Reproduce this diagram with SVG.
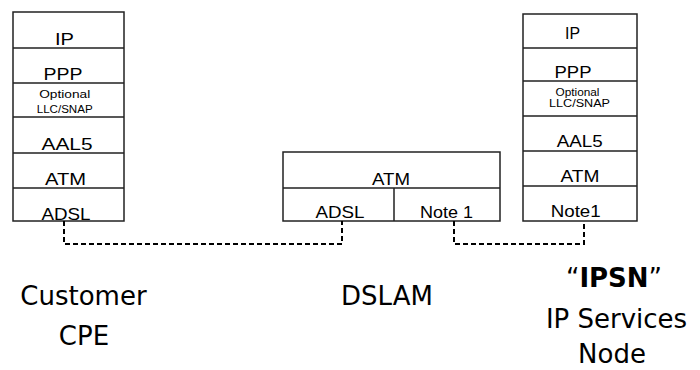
<svg xmlns="http://www.w3.org/2000/svg" width="700" height="370" viewBox="0 0 700 370">
<style>
.box{fill:#fff;stroke:#222;stroke-width:1.5}
.div{stroke:#222;stroke-width:1.5;fill:none}
.t{font-family:"Liberation Sans",Arial,sans-serif;font-size:17px;fill:#000;text-anchor:middle}
.s{font-family:"Liberation Sans",Arial,sans-serif;font-size:10px;fill:#000;text-anchor:middle}
.lbl{font-family:"DejaVu Sans","Noto Sans",sans-serif;font-size:26px;fill:#000;text-anchor:middle}
.dash{stroke:#000;stroke-width:2;fill:none;stroke-dasharray:5,3}
</style>
<rect width="700" height="370" fill="#fff"/>
<g id="cpe-stack">
<rect class="box" x="13" y="12" width="111" height="209"/>
<path class="div" d="M13 48H124M13 83H124M13 117H124M13 153H124M13 188H124"/>
<text class="t" x="64.5" y="45" textLength="19" lengthAdjust="spacingAndGlyphs">IP</text>
<text class="t" x="63" y="80" textLength="39" lengthAdjust="spacingAndGlyphs">PPP</text>
<text class="s" x="64.7" y="98" textLength="51" lengthAdjust="spacingAndGlyphs">Optional</text>
<text class="s" x="64.7" y="112.5" textLength="56" lengthAdjust="spacingAndGlyphs">LLC/SNAP</text>
<text class="t" x="67" y="150" textLength="51" lengthAdjust="spacingAndGlyphs">AAL5</text>
<text class="t" x="65.5" y="185" textLength="41" lengthAdjust="spacingAndGlyphs">ATM</text>
<text class="t" x="66" y="220" textLength="49" lengthAdjust="spacingAndGlyphs">ADSL</text>
</g>
<g id="dslam-stack">
<rect class="box" x="283" y="152" width="217" height="69"/>
<path class="div" d="M283 188H500M394 188V221"/>
<text class="t" x="391" y="185" textLength="38" lengthAdjust="spacingAndGlyphs">ATM</text>
<text class="t" x="340" y="218" textLength="49" lengthAdjust="spacingAndGlyphs">ADSL</text>
<text class="t" x="446.5" y="217.5" textLength="53" lengthAdjust="spacingAndGlyphs">Note 1</text>
</g>
<g id="ipsn-stack">
<rect class="box" x="523" y="14" width="114" height="207"/>
<path class="div" d="M523 48H637M523 81H637M523 116H637M523 151H637M523 186H637"/>
<text class="t" x="572.5" y="38.5" textLength="15" lengthAdjust="spacingAndGlyphs">IP</text>
<text class="t" x="573" y="77.5" textLength="37" lengthAdjust="spacingAndGlyphs">PPP</text>
<text class="s" x="577.5" y="95.5" textLength="44" lengthAdjust="spacingAndGlyphs">Optional</text>
<text class="s" x="579.5" y="107" textLength="61" lengthAdjust="spacingAndGlyphs">LLC/SNAP</text>
<text class="t" x="579.7" y="146.7" textLength="46" lengthAdjust="spacingAndGlyphs">AAL5</text>
<text class="t" x="580" y="181.7" textLength="39" lengthAdjust="spacingAndGlyphs">ATM</text>
<text class="t" x="575.7" y="216.7" textLength="50" lengthAdjust="spacingAndGlyphs">Note1</text>
</g>
<g id="connectors">
<path class="dash" d="M64 221V244H342V221"/>
<path class="dash" d="M454 221V244H584V221"/>
</g>
<g id="label-cpe">
<text class="lbl" x="83.5" y="305">Customer</text>
<text class="lbl" x="84" y="345">CPE</text>
</g>
<g id="label-dslam">
<text class="lbl" x="387" y="305">DSLAM</text>
</g>
<g id="label-ipsn">
<text class="lbl" x="614" y="287">“<tspan font-weight="bold">IPSN</tspan>”</text>
<text class="lbl" x="616.5" y="328">IP Services</text>
<text class="lbl" x="612" y="363">Node</text>
</g>
</svg>
